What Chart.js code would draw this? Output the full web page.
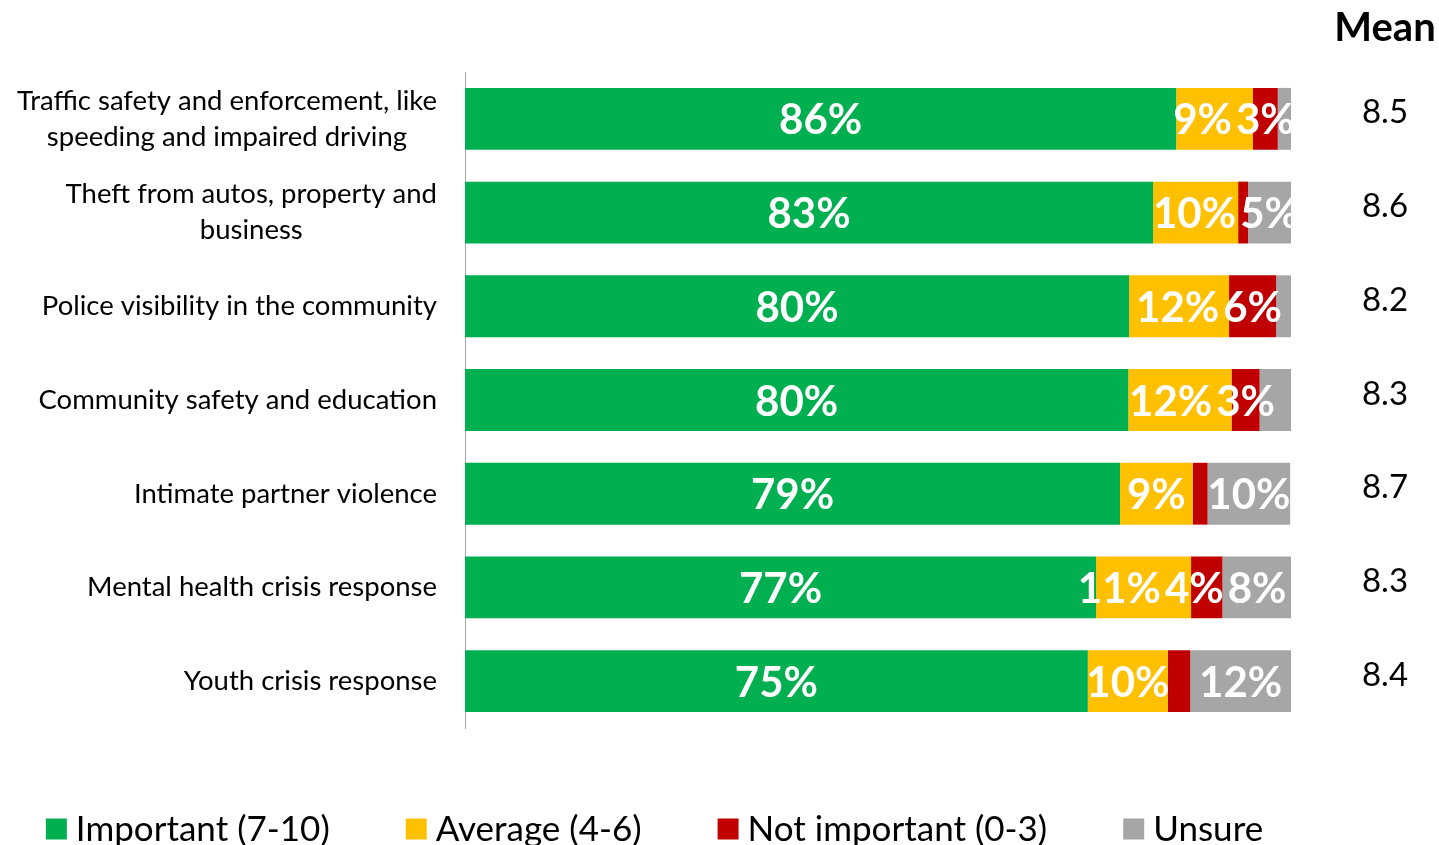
<!DOCTYPE html>
<html>
<head>
<meta charset="utf-8">
<script src="https://cdn.jsdelivr.net/npm/chart.js@4.4.1/dist/chart.umd.min.js"></script>
<style>
  html, body { margin: 0; padding: 0; background: #fff; overflow: hidden; }
  #wrap { width: 1439px; height: 845px; position: relative; }
</style>
</head>
<body>
<div id="wrap"><canvas id="chart" width="1439" height="845"></canvas></div>
<script>
const categories = [
  ["Traffic safety and enforcement, like", "speeding and impaired driving"],
  ["Theft from autos, property and", "business"],
  ["Police visibility in the community"],
  ["Community safety and education"],
  ["Intimate partner violence"],
  ["Mental health crisis response"],
  ["Youth crisis response"]
];
const seriesNames = ["Important (7-10)", "Average (4-6)", "Not important (0-3)", "Unsure"];
const colors = ["#00B050", "#FFC000", "#C00000", "#A6A6A6"];

const important = [86.1, 83.3, 80.4, 80.3, 79.3, 76.4, 75.4];
const average = [9.3, 10.3, 12.1, 12.5, 8.8, 11.5, 9.7];
const notImportant = [3.0, 1.2, 5.7, 3.4, 1.8, 3.8, 2.7];
const unsure = [1.6, 5.2, 1.8, 3.9, 10.0, 8.4, 12.2];

// bar labels as printed (blank = not shown)
const importantLabels = ["86%", "83%", "80%", "80%", "79%", "77%", "75%"];
const averageLabels = ["9%", "10%", "12%", "12%", "9%", "11%", "10%"];
const notImportantLabels = ["3%", "", "6%", "3%", "", "4%", ""];
const unsureLabels = ["", "5%", "", "", "10%", "8%", "12%"];

const means = ["8.5", "8.6", "8.2", "8.3", "8.7", "8.3", "8.4"];

const FONT = "Lato, 'Open Sans', sans-serif";

const values = [important, average, notImportant, unsure];
const labelSets = [importantLabels, averageLabels, notImportantLabels, unsureLabels];

// category names, each block right aligned, lines centred inside the block
const categoryLabels = {
  id: "categoryLabels",
  afterDraw(chart) {
    const ctx = chart.ctx;
    const y = chart.scales.y;
    const right = chart.chartArea.left - 28;
    const lh = 36;
    ctx.save();
    ctx.font = "27.5px " + FONT;
    ctx.fillStyle = "#000";
    ctx.textAlign = "center";
    ctx.textBaseline = "middle";
    categories.forEach((lines, i) => {
      const w = Math.max(...lines.map(l => ctx.measureText(l).width));
      const cx = right - w / 2;
      const cy = y.getPixelForValue(i);
      lines.forEach((l, k) => {
        ctx.fillText(l, cx, cy + (k - (lines.length - 1) / 2) * lh);
      });
    });
    ctx.restore();
  }
};

// white bold percentages inside the bars, nudged left when they collide
const barLabels = {
  id: "barLabels",
  afterDatasetsDraw(chart) {
    const ctx = chart.ctx;
    ctx.save();
    ctx.font = "bold 42px " + FONT;
    ctx.fillStyle = "#fff";
    ctx.textAlign = "center";
    ctx.textBaseline = "middle";
    const n = chart.data.labels.length;
    for (let j = 0; j < n; j++) {
      const items = [];
      chart.data.datasets.forEach((ds, i) => {
        const txt = labelSets[i][j];
        if (!txt) return;
        const bar = chart.getDatasetMeta(i).data[j];
        items.push({ txt, x: (bar.x + bar.base) / 2, y: bar.y, w: ctx.measureText(txt).width });
      });
      for (let k = items.length - 2; k >= 0; k--) {
        const a = items[k], b = items[k + 1];
        const limit = b.x - b.w / 2 - 4;
        if (a.x + a.w / 2 > limit) a.x = limit - a.w / 2;
      }
      items.forEach(it => ctx.fillText(it.txt, it.x, it.y + 2));
    }
    ctx.restore();
  }
};

// "Mean" column on the right
const meanColumn = {
  id: "meanColumn",
  afterDraw(chart) {
    const ctx = chart.ctx;
    const y = chart.scales.y;
    const x = 1385;
    ctx.save();
    ctx.fillStyle = "#000";
    ctx.textAlign = "center";
    ctx.textBaseline = "middle";
    ctx.font = "bold 40px " + FONT;
    ctx.fillText("Mean", x, 28);
    ctx.font = "33px " + FONT;
    means.forEach((m, i) => {
      ctx.fillText(m, x, y.getPixelForValue(i) - 6);
    });
    ctx.restore();
  }
};

// legend along the bottom
const bottomLegend = {
  id: "bottomLegend",
  afterDraw(chart) {
    const ctx = chart.ctx;
    const box = 21, gap = 9, spacing = 76;
    ctx.save();
    ctx.font = "35px " + FONT;
    const widths = seriesNames.map(n => box + gap + ctx.measureText(n).width);
    const total = widths.reduce((a, b) => a + b, 0) + spacing * (widths.length - 1);
    let x = chart.chartArea.right / 2 - total / 2 + 9;
    const cy = 829;
    ctx.textBaseline = "middle";
    ctx.textAlign = "left";
    seriesNames.forEach((n, i) => {
      ctx.fillStyle = colors[i];
      ctx.fillRect(x, cy - box / 2, box, box);
      ctx.fillStyle = "#000";
      ctx.fillText(n, x + box + gap, cy + 1);
      x += widths[i] + spacing;
    });
    ctx.restore();
  }
};

new Chart(document.getElementById("chart"), {
  type: "bar",
  data: {
    labels: categories.map(c => c.join(" ")),
    datasets: seriesNames.map((name, i) => ({
      label: name,
      data: values[i],
      backgroundColor: colors[i],
      borderWidth: 0,
      barPercentage: 0.66,
      categoryPercentage: 1
    }))
  },
  options: {
    indexAxis: "y",
    responsive: false,
    animation: false,
    layout: { padding: { top: 72, right: 148, bottom: 117, left: 0 } },
    plugins: {
      legend: { display: false },
      tooltip: { enabled: false }
    },
    scales: {
      x: {
        stacked: true,
        min: 0,
        max: 100,
        display: false
      },
      y: {
        stacked: true,
        grid: { display: false, drawTicks: false },
        border: { display: true, color: "#A6A6A6", width: 1 },
        ticks: { display: false },
        afterFit(scale) { scale.width = 465; }
      }
    }
  },
  plugins: [barLabels, categoryLabels, meanColumn, bottomLegend]
});
</script>
</body>
</html>
